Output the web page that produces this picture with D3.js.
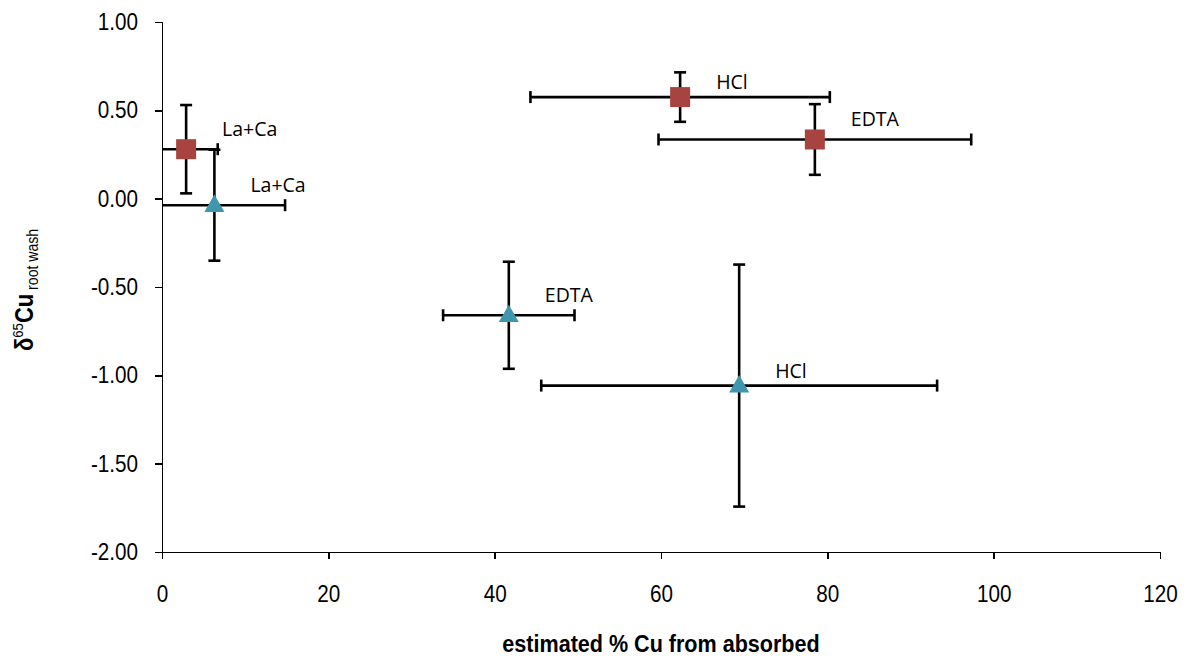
<!DOCTYPE html>
<html>
<head>
<meta charset="utf-8">
<script src="https://cdn.jsdelivr.net/npm/d3@7"></script>
<style>
  html, body { margin: 0; padding: 0; background: #ffffff; }
  svg { display: block; }
  .axis text { font-family: "Liberation Sans", Arial, sans-serif; font-size: 23.5px; fill: #000; }
  .axis path, .axis line { stroke: #000; stroke-width: 1.5px; shape-rendering: crispEdges; }
  .pt-label { font-family: "Open Sans", sans-serif; font-size: 19.5px; fill: #000; }
  .axis-title { font-family: "Liberation Sans", Arial, sans-serif; font-weight: bold; fill: #000; }
</style>
</head>
<body>
<svg id="chart" width="1190" height="661"></svg>
<script>
// Treatment names, in the order each series' values are listed
const treatments = ["La+Ca", "HCl", "EDTA"];

// Series drawn with square markers
const squareX    = [2.9, 62.3, 78.5];
const squareY    = [0.28, 0.575, 0.335];
const squareXErr = [3.8, 18.0, 18.8];
const squareYErr = [0.25, 0.14, 0.20];

// Series drawn with triangle markers
const triX    = [6.3, 69.4, 41.7];
const triY    = [-0.037, -1.058, -0.66];
const triXErr = [8.5, 23.8, 7.9];
const triYErr = [0.314, 0.685, 0.303];

// Axis ticks
const xTicks = [0, 20, 40, 60, 80, 100, 120];
const yTicks = [1.0, 0.5, 0.0, -0.5, -1.0, -1.5, -2.0];

const svg = d3.select("#chart");
const plot = { left: 162, right: 1160, top: 22, bottom: 552 };
const narrow = 0.88; // horizontal squeeze giving a condensed face

const x = d3.scaleLinear().domain([0, 120]).range([plot.left, plot.right]);
const y = d3.scaleLinear().domain([-2, 1]).range([plot.bottom, plot.top]);

// Condense axis tick labels around their anchor point
function condense(sel) {
  sel.selectAll("text").each(function () {
    const t = d3.select(this);
    const tx = +t.attr("x") || 0, ty = +t.attr("y") || 0;
    t.attr("x", 0).attr("y", 0).attr("transform", `translate(${tx},${ty}) scale(${narrow},1)`);
  });
}

// Axes
svg.append("g")
  .attr("class", "axis")
  .attr("transform", `translate(0,${plot.bottom})`)
  .call(d3.axisBottom(x).tickValues(xTicks).tickFormat(d3.format("d")).tickSizeOuter(0).tickSize(7).tickPadding(26))
  .call(condense);

svg.append("g")
  .attr("class", "axis")
  .attr("transform", `translate(${plot.left},0)`)
  .call(d3.axisLeft(y).tickValues(yTicks).tickFormat(d => d3.format(".2f")(d).replace("−", "-")).tickSizeOuter(0).tickSize(7).tickPadding(17))
  .call(condense);

// Build point records from the arrays
const mk = (xs, ys, xe, ye, shape, color) => xs.map((v, i) => ({
  name: treatments[i], x: v, y: ys[i], xe: xe[i], ye: ye[i], shape, color
}));
const points = [
  ...mk(squareX, squareY, squareXErr, squareYErr, "square", "#A8443F"),
  ...mk(triX, triY, triXErr, triYErr, "triangle", "#3F97AD")
];

// Error bars, clipped to the plotting area
const capHalf = 6;
const eb = svg.append("g").attr("stroke", "#000").attr("stroke-width", 2.6).attr("fill", "none");
points.forEach(p => {
  const xlo = Math.max(0, p.x - p.xe), xhi = Math.min(120, p.x + p.xe);
  const ylo = p.y - p.ye, yhi = p.y + p.ye;
  const cy = y(p.y), cx = x(p.x);
  eb.append("line").attr("x1", x(xlo)).attr("x2", x(xhi)).attr("y1", cy).attr("y2", cy);
  if (p.x - p.xe >= 0) eb.append("line").attr("x1", x(xlo)).attr("x2", x(xlo)).attr("y1", cy - capHalf).attr("y2", cy + capHalf);
  if (p.x + p.xe <= 120) eb.append("line").attr("x1", x(xhi)).attr("x2", x(xhi)).attr("y1", cy - capHalf).attr("y2", cy + capHalf);
  eb.append("line").attr("x1", cx).attr("x2", cx).attr("y1", y(yhi)).attr("y2", y(ylo));
  eb.append("line").attr("x1", cx - capHalf).attr("x2", cx + capHalf).attr("y1", y(yhi)).attr("y2", y(yhi));
  eb.append("line").attr("x1", cx - capHalf).attr("x2", cx + capHalf).attr("y1", y(ylo)).attr("y2", y(ylo));
});

// Markers
const squareSym = d3.symbol().type(d3.symbolSquare).size(400);
const triSym = d3.symbol().type(d3.symbolTriangle).size(175);
svg.append("g").selectAll("path")
  .data(points)
  .join("path")
  .attr("d", d => d.shape === "square" ? squareSym() : triSym())
  .attr("transform", d => `translate(${x(d.x)},${y(d.y) + (d.shape === "triangle" ? 1 : 0)})`)
  .attr("fill", d => d.color);

// Point labels
svg.append("g").selectAll("text")
  .data(points)
  .join("text")
  .attr("class", "pt-label")
  .attr("x", d => x(d.x) + 36)
  .attr("y", d => y(d.y) - (d.name === "HCl" ? 8 : 13))
  .text(d => d.name);

// Axis titles
svg.append("text")
  .attr("class", "axis-title")
  .attr("transform", `translate(661,652) scale(${narrow},1)`)
  .attr("text-anchor", "middle")
  .attr("font-size", 24.5)
  .text("estimated % Cu from absorbed");

const yt = svg.append("text")
  .attr("class", "axis-title")
  .attr("transform", `translate(33,290) rotate(-90) scale(${narrow},1)`)
  .attr("text-anchor", "middle")
  .attr("font-size", 25);
yt.append("tspan").text("δ");
yt.append("tspan").attr("font-size", 15).attr("font-weight", "normal").attr("dy", -10).text("65");
yt.append("tspan").attr("dy", 10).text("Cu");
yt.append("tspan").attr("font-size", 16).attr("font-weight", "normal").attr("dy", 5).text(" root wash");
</script>
</body>
</html>
